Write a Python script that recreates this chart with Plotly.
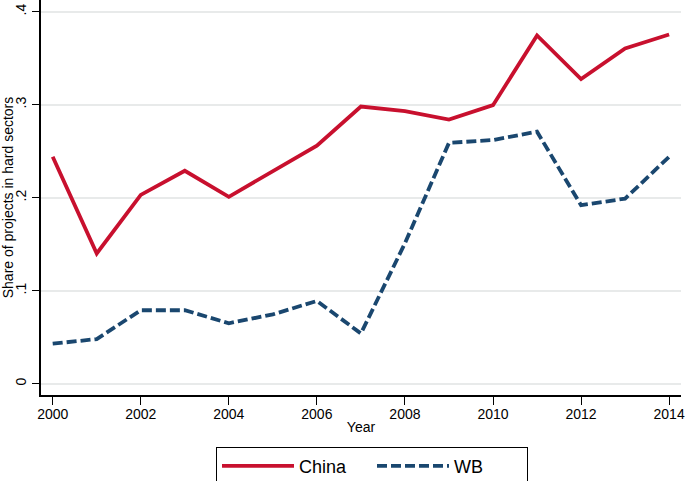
import plotly.graph_objects as go

years = list(range(2000, 2015))
china = [0.244, 0.140, 0.203, 0.229, 0.201, 0.229, 0.256, 0.298, 0.293, 0.284,
         0.2995, 0.3745, 0.3275, 0.3605, 0.3755]
wb = [0.043, 0.048, 0.079, 0.079, 0.065, 0.0745, 0.089, 0.054, 0.151, 0.259,
      0.262, 0.271, 0.192, 0.199, 0.244]
y_ticks = [0, 0.1, 0.2, 0.3, 0.4]
y_labels = ["0", ".1", ".2", ".3", ".4"]
x_ticks = list(range(2000, 2015, 2))

fig = go.Figure()
fig.add_trace(go.Scatter(x=years, y=china, mode="lines", name="China",
                         line=dict(color="#c8102e", width=3.8)))
fig.add_trace(go.Scatter(x=years, y=wb, mode="lines", name="WB",
                         line=dict(color="#1a476f", width=3.8, dash="10px,4px")))

font = "Liberation Sans, Arial, Helvetica, sans-serif"
fig.update_layout(
    width=685, height=481,
    margin=dict(l=41, r=4, t=0, b=86, autoexpand=False),
    paper_bgcolor="white", plot_bgcolor="white",
    font=dict(family=font, size=14, color="black"),
    showlegend=True,
    legend=dict(orientation="h", x=0.5 + 11 / 640, xanchor="center", y=-0.131,
                yanchor="top", bordercolor="black", borderwidth=1,
                font=dict(size=18), itemwidth=72, entrywidth=68, tracegroupgap=0),
)
fig.update_xaxes(range=[1999.734, 2014.27], tickvals=x_ticks, ticks="outside",
                 ticklen=8, tickwidth=1.2, tickcolor="black", showline=True,
                 linecolor="black", linewidth=1.5, showgrid=False, zeroline=False,
                 automargin=False, ticklabelstandoff=-3,
                 title=dict(text="Year", standoff=2, font=dict(size=14)),
                 tickfont=dict(size=14))
fig.update_yaxes(range=[-0.01215, 0.4126], tickvals=y_ticks, ticktext=y_labels,
                 ticks="outside", ticklen=7, tickwidth=1.2, tickcolor="black",
                 showline=True, linecolor="black", linewidth=1.5,
                 showgrid=True, gridcolor="#e8eaea", gridwidth=1.5, zeroline=False,
                 automargin=False, ticklabelstandoff=1,
                 tickangle=-90, tickfont=dict(size=14),
                 title=dict(text="Share of projects in hard sectors", standoff=3,
                            font=dict(size=14)))

fig.write_html("out.html", config={"displayModeBar": False},
               post_script="document.body.style.margin='0';document.body.style.overflow='hidden';")
